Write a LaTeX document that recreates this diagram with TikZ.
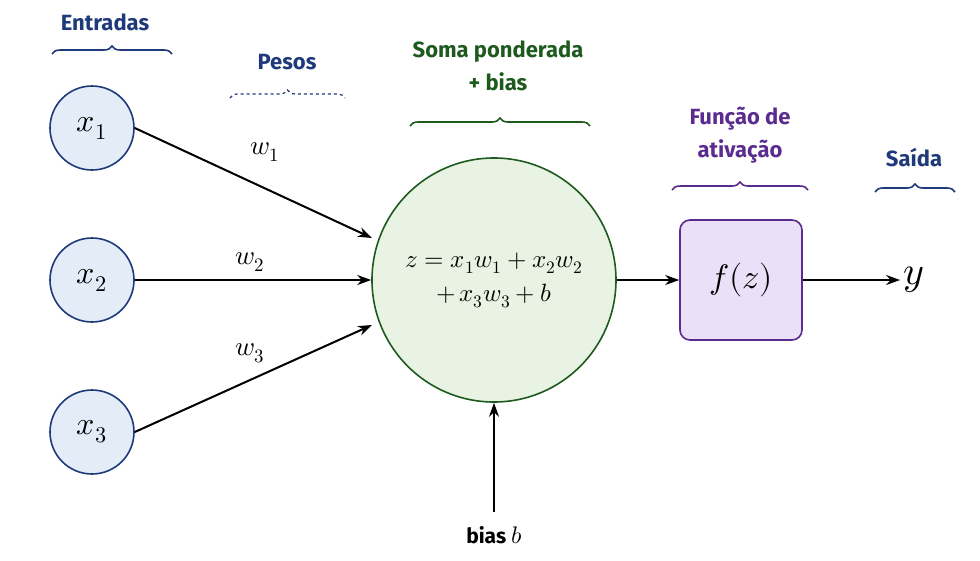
\documentclass[tikz,border=0pt]{standalone}
\usepackage{fontspec}
\usepackage{unicode-math}
\newfontfamily\hdr{Fira Sans}
\usetikzlibrary{decorations.pathreplacing,arrows.meta}
\definecolor{hblue}{HTML}{1F3A7A}
\definecolor{hgreen}{HTML}{1E5A1E}
\definecolor{hpurple}{HTML}{5B2C8F}
\definecolor{inblue}{HTML}{E3ECF7}
\definecolor{sumgreen}{HTML}{E9F3E4}
\definecolor{boxpurple}{HTML}{EAE0F7}
\begin{document}
\begin{tikzpicture}[x=1pt,y=-1pt,
  inp/.style={circle,draw=hblue,line width=1.6pt,fill=inblue,minimum size=84pt,font=\fontsize{32}{36}\selectfont},
  arr/.style={-{Stealth[length=14pt,width=10pt]},line width=2pt},
  hd/.style={font=\hdr\bfseries\fontsize{22}{33}\selectfont,align=center},
  br/.style={decorate,decoration={brace,amplitude=8pt},line width=1.6pt},
  wl/.style={font=\fontsize{27}{30}\selectfont}]
\useasboundingbox[fill=white] (0,0) rectangle (980,560);
\node[inp] (x1) at (92,128) {$x_1$};
\node[inp] (x2) at (92,280) {$x_2$};
\node[inp] (x3) at (92,432) {$x_3$};
\node[circle,draw=hgreen,line width=1.6pt,fill=sumgreen,minimum size=244pt,align=center,font=\fontsize{25}{34}\selectfont] (s) at (494,280) {$z = x_1w_1 + x_2w_2$\\$+\,x_3w_3 + b$};
\node[draw=hpurple,line width=1.6pt,fill=boxpurple,rounded corners=10pt,minimum width=122pt,minimum height=120pt,font=\fontsize{34}{38}\selectfont] (f) at (741,280) {$f(z)$};
\node[font=\fontsize{40}{44}\selectfont] (y) at (914,280) {$y$};
\coordinate (b0) at (494,512);
\node[font=\hdr\bfseries\fontsize{21}{24}\selectfont] (bl) at (494,535) {bias \textmd{\fontsize{24}{26}\selectfont$b$}};
\draw[arr] (x1.east) -- (372,238);
\draw[arr] (x2.east) -- (s.west);
\draw[arr] (x3.east) -- (372,325);
\draw[arr] (s.east) -- (f.west);
\draw[arr] (f.east) -- (y.west);
\draw[arr] (b0) -- (s.south);
\node[wl] (w1) at (265,152) {$w_1$};
\node[wl] (w2) at (250,262) {$w_2$};
\node[wl] (w3) at (250,353) {$w_3$};
\node[hd,text=hblue] (h1) at (105,22) {Entradas};
\draw[br,hblue] (52,54) -- (172,54);
\node[hd,text=hblue] (h2) at (287,62) {Pesos};
\draw[br,hblue,dashed,line width=1.2pt] (230,98) -- (345,98);
\node[hd,text=hgreen] (h3) at (498,66) {Soma ponderada\\+ bias};
\draw[br,hgreen] (410,126) -- (590,126);
\node[hd,text=hpurple] (h4) at (740,135) {Função de\\ativação};
\draw[br,hpurple] (672,190) -- (808,190);
\node[hd,text=hblue] (h5) at (914,157) {Saída};
\draw[br,hblue] (875,192) -- (955,192);
\end{tikzpicture}
\end{document}
